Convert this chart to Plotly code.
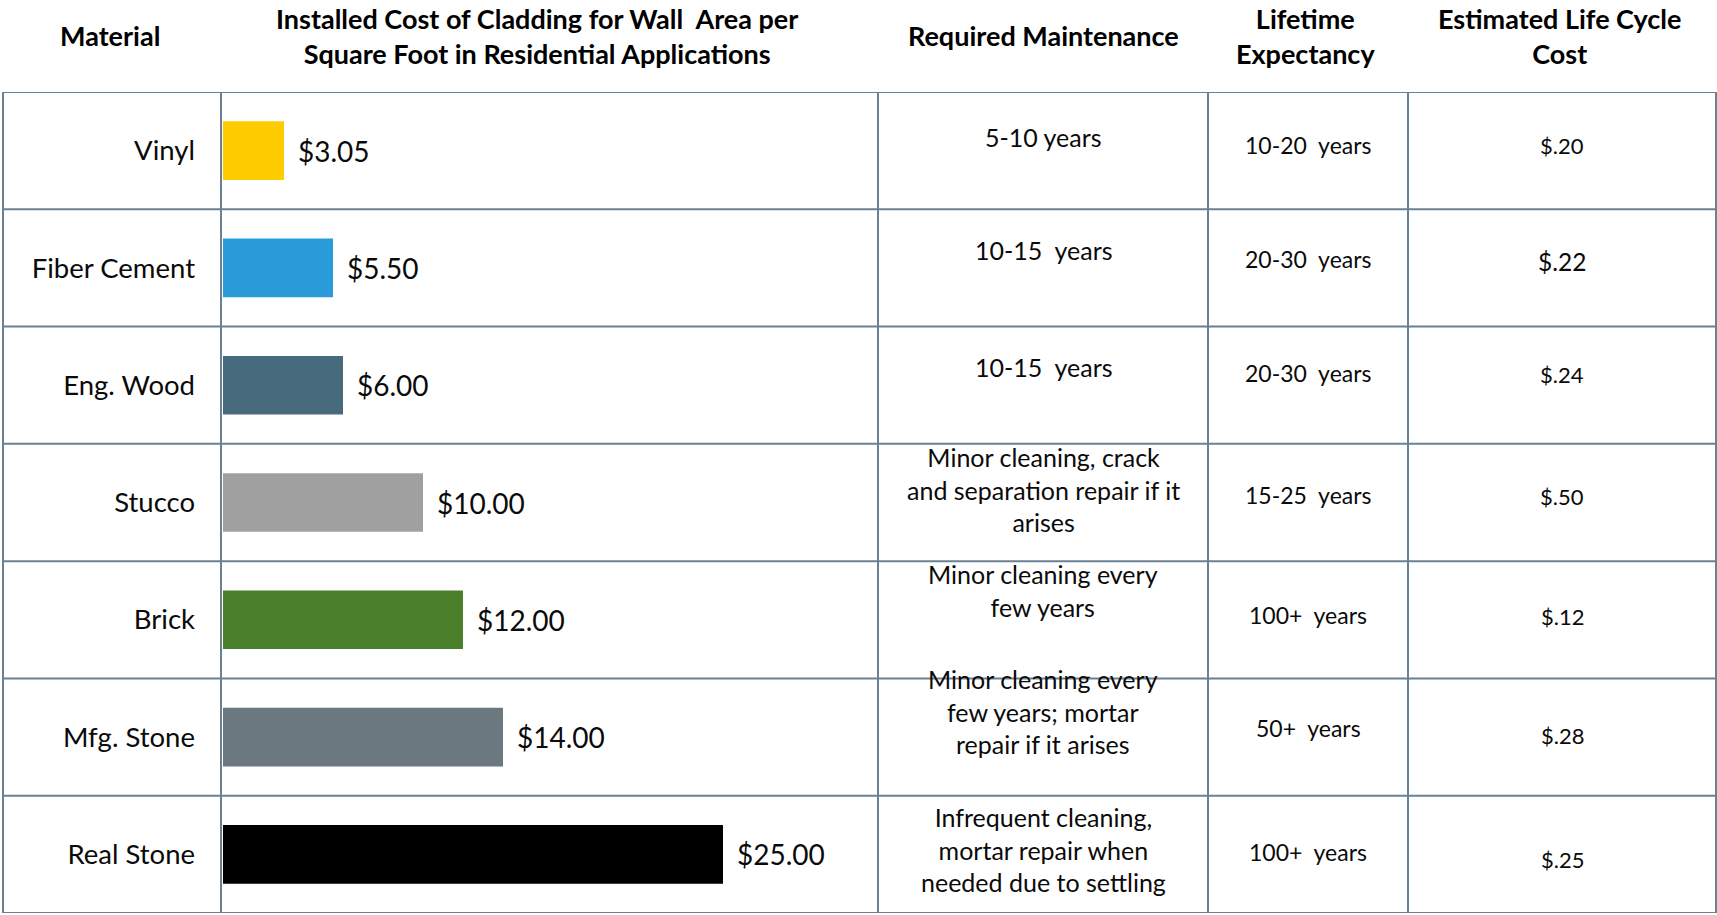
import plotly.graph_objects as go

# ---------------- data ----------------
materials = ["Vinyl", "Fiber Cement", "Eng. Wood", "Stucco", "Brick", "Mfg. Stone", "Real Stone"]
installed_cost = [3.05, 5.50, 6.00, 10.00, 12.00, 14.00, 25.00]
bar_colors = ["#FFCC00", "#2A9BD9", "#486A7D", "#A0A0A0", "#4A7F2C", "#6C7880", "#000000"]
maintenance = [
    "5-10 years",
    "10-15  years",
    "10-15  years",
    "Minor cleaning, crack<br>and separation repair if it<br>arises",
    "Minor cleaning every<br>few years",
    "Minor cleaning every<br>few years; mortar<br>repair if it arises",
    "Infrequent cleaning,<br>mortar repair when<br>needed due to settling",
]
lifetime = ["10-20  years", "20-30  years", "20-30  years", "15-25  years",
            "100+  years", "50+  years", "100+  years"]
life_cycle_cost = ["$.20", "$.22", "$.24", "$.50", "$.12", "$.28", "$.25"]
headers = ["Material",
           "Installed Cost of Cladding for Wall  Area per<br>Square Foot in Residential Applications",
           "Required Maintenance",
           "Lifetime<br>Expectancy",
           "Estimated Life Cycle<br>Cost"]

# ---------------- layout constants ----------------
W, H = 1717, 915
FONT = "Lato, 'Open Sans', sans-serif"
LINE = "#6A8193"
col_edges_px = [3, 221, 878, 1208, 1408, 1716]
table_top_px, table_bot_px = 92, 913
bar_left_px = 223
px_per_unit = 20.0
# vertical text nudges (pixels, positive = up) per column
maint_nudge_px = [14, 18, 18, 13, 29, 26, 5]
life_nudge_px = [6, 9, 12, 8, 5, 9, 2]
cost_nudge_px = [5, 6, 11, 6, 3, 2, -5]

def px2x(px):
    return px / W

def py2y(py):
    return 1 - py / H

n = len(materials)

fig = go.Figure()
fig.add_trace(go.Bar(
    x=installed_cost, y=materials, orientation="h",
    marker=dict(color=bar_colors, line=dict(width=0)),
    width=0.5, hoverinfo="skip", showlegend=False,
))

x_dom = [px2x(bar_left_px), px2x(col_edges_px[2])]
x_range_max = (col_edges_px[2] - bar_left_px) / px_per_unit

fig.update_layout(
    width=W, height=H,
    margin=dict(l=0, r=0, t=0, b=0),
    paper_bgcolor="white", plot_bgcolor="white",
    font=dict(family=FONT, color="#0A0A0A"),
    xaxis=dict(domain=x_dom, range=[0, x_range_max], showgrid=False, zeroline=False,
               showticklabels=False, showline=False, fixedrange=True),
    yaxis=dict(domain=[py2y(table_bot_px), py2y(table_top_px)],
               range=[n - 0.5, -0.5], showgrid=False, zeroline=False, showline=False,
               tickfont=dict(size=27.5, family=FONT, color="#0A0A0A"),
               ticks="", ticklabelstandoff=27, fixedrange=True),
)

shapes = []
# horizontal grid lines (row boundaries)
for i in range(n + 1):
    shapes.append(dict(type="line", xref="paper", yref="y",
                       x0=px2x(col_edges_px[0]), x1=px2x(col_edges_px[-1]),
                       y0=i - 0.5, y1=i - 0.5, line=dict(color=LINE, width=2)))
# vertical lines
for e in col_edges_px:
    shapes.append(dict(type="line", xref="paper", yref="paper",
                       x0=px2x(e), x1=px2x(e),
                       y0=py2y(table_bot_px), y1=py2y(table_top_px),
                       line=dict(color=LINE, width=2)))
fig.update_layout(shapes=shapes)

ann = []
# headers
header_centers_px = [110, 537, 1043, 1305, 1560]
for txt, cx in zip(headers, header_centers_px):
    ann.append(dict(text="<b>" + txt + "</b>", xref="paper", yref="paper",
                    x=px2x(cx), y=py2y(36), xanchor="center", yanchor="middle",
                    showarrow=False, align="center",
                    font=dict(size=27, family=FONT, color="#000000")))

# value labels next to bars
for m, v in zip(materials, installed_cost):
    ann.append(dict(text="$%.2f" % v, x=v, y=m, xref="x", yref="y",
                    xanchor="left", yanchor="middle", xshift=12, showarrow=False,
                    font=dict(size=28, family=FONT, color="#0A0A0A")))

# text columns
maint_cx = (col_edges_px[2] + col_edges_px[3]) / 2
life_cx = (col_edges_px[3] + col_edges_px[4]) / 2
cost_cx = (col_edges_px[4] + col_edges_px[5]) / 2
for i, m in enumerate(materials):
    ann.append(dict(text=maintenance[i], x=px2x(maint_cx), y=m, xref="paper", yref="y",
                    xanchor="center", yanchor="middle", yshift=maint_nudge_px[i],
                    showarrow=False, align="center",
                    font=dict(size=25, family=FONT, color="#0A0A0A")))
    ann.append(dict(text=lifetime[i], x=px2x(life_cx), y=m, xref="paper", yref="y",
                    xanchor="center", yanchor="middle", yshift=life_nudge_px[i],
                    showarrow=False,
                    font=dict(size=23, family=FONT, color="#0A0A0A")))
    ann.append(dict(text=life_cycle_cost[i], x=px2x(cost_cx), y=m, xref="paper", yref="y",
                    xanchor="center", yanchor="middle", yshift=cost_nudge_px[i],
                    showarrow=False,
                    font=dict(size=24.5 if life_cycle_cost[i] == "$.22" else 22,
                              family=FONT, color="#0A0A0A")))
fig.update_layout(annotations=ann)

fig.write_html("out.html", config={"displayModeBar": False},
               post_script="document.body.style.margin='0';document.body.style.overflow='hidden';")
